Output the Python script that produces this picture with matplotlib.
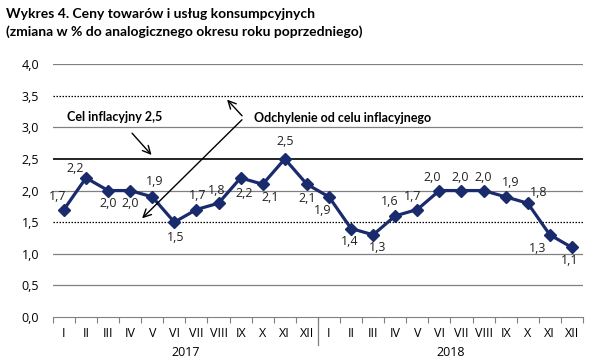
import matplotlib.pyplot as plt
import numpy as np

months = ["I", "II", "III", "IV", "V", "VI", "VII", "VIII", "IX", "X", "XI", "XII"]
years = ["2017", "2018"]
cpi_2017 = [1.7, 2.2, 2.0, 2.0, 1.9, 1.5, 1.7, 1.8, 2.2, 2.1, 2.5, 2.1]
cpi_2018 = [1.9, 1.4, 1.3, 1.6, 1.7, 2.0, 2.0, 2.0, 1.9, 1.8, 1.3, 1.1]

values = cpi_2017 + cpi_2018
labels = months + months
x = np.arange(len(values))

# label offsets in pixels (dx, dy) for each point
offsets = [(-6, 13), (-11, 9), (0, -13), (0, -13), (2, 15), (1, -15),
           (1, 14), (-2, 13), (4, -16), (7, -13), (0, 17), (0, -14),
           (-6, -14), (-1, -13), (4, -13), (-6, 14), (-5, 13), (-7, 13),
           (-1, 13), (0, 13), (5, 14), (11, 11), (-12, -14), (-2, -13)]

navy = "#1a2b6d"
text_font = ["Open Sans", "DejaVu Sans"]
bold_font = ["Lato", "DejaVu Sans"]

fig = plt.figure(figsize=(6.01, 3.64), dpi=100, facecolor="white")
ax = fig.add_axes([0.088, 0.129, 0.882, 0.695])

for y in [0.5, 1.0, 2.0, 3.0, 4.0]:
    ax.axhline(y, color="#808080", lw=0.9, zorder=1)
for y in [1.5, 3.5]:
    ax.axhline(y, color="black", lw=0.9, ls=(0, (1.2, 1.2)), zorder=1)
ax.axhline(2.5, color="black", lw=1.2, zorder=1)

ax.plot(x, values, color=navy, lw=2.3, marker="D", markersize=6, zorder=3)

for xi, v, (dx, dy) in zip(x, values, offsets):
    ax.annotate(f"{v:.1f}".replace(".", ","), (xi, v), xytext=(dx, dy),
                textcoords="offset pixels", ha="center", va="center",
                fontsize=9, family=text_font, color="#222222")

ax.set_xlim(-0.5, len(values) - 0.5)
ax.set_ylim(0, 4)
ax.set_yticks(np.arange(0, 4.01, 0.5))
ax.set_yticklabels([f"{t:.1f}".replace(".", ",") for t in np.arange(0, 4.01, 0.5)],
                   family=text_font, fontsize=9)
ax.tick_params(axis="y", length=0, pad=10)

ax.set_xticks(x)
ax.set_xticklabels(labels, family=text_font, fontsize=9)
ax.tick_params(axis="x", length=0, pad=7)
ax.set_xticks(np.arange(-0.5, len(values)), minor=True)
ax.tick_params(axis="x", which="minor", length=4, color="#808080", width=0.8)

for s in ["top", "right", "left"]:
    ax.spines[s].set_visible(False)
ax.spines["bottom"].set_color("#808080")

# year separator and year labels
ax.plot([11.5, 11.5], [0, -0.44], color="#808080", lw=0.9, clip_on=False)
for i, yr in enumerate(years):
    ax.text(5.5 + 12 * i, -0.56, yr, ha="center", va="center",
            family=text_font, fontsize=9)

# annotations
arrow = dict(arrowstyle="->", color="black", lw=1.0, mutation_scale=14)
ax.text(0.15, 3.16, "Cel inflacyjny 2,5", family=bold_font, fontweight="bold",
        fontsize=9, va="center")
ax.annotate("", xy=(4.05, 2.53), xytext=(3.0, 2.94), arrowprops=arrow)
ax.text(8.6, 3.15, "Odchylenie od celu inflacyjnego", family=bold_font,
        fontweight="bold", fontsize=9, va="center")
ax.annotate("", xy=(7.3, 3.47), xytext=(8.15, 3.15), arrowprops=arrow)
ax.annotate("", xy=(3.45, 1.53), xytext=(8.15, 3.15), arrowprops=arrow)

fig.text(0.01, 0.978, "Wykres 4. Ceny towarów i usług konsumpcyjnych",
         family=bold_font, fontweight="bold", fontsize=10, va="top")
fig.text(0.01, 0.93, "(zmiana w % do analogicznego okresu roku poprzedniego)",
         family=bold_font, fontweight="bold", fontsize=10, va="top")

fig.savefig("out.png", dpi=100, facecolor="white")
